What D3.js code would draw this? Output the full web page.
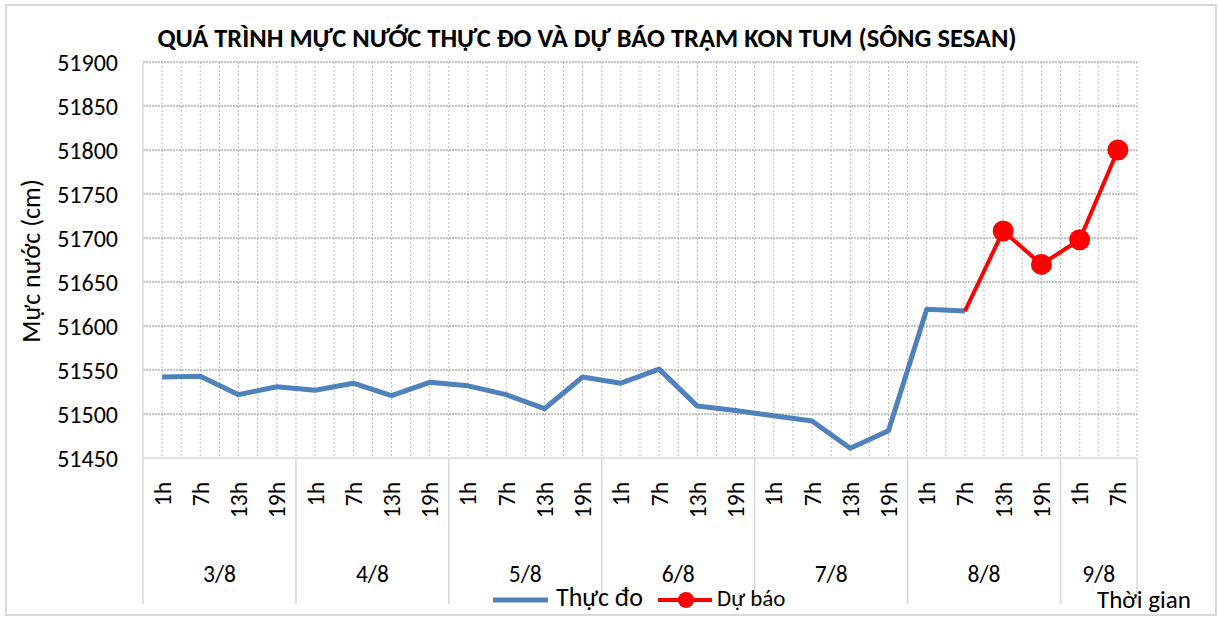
<!DOCTYPE html>
<html>
<head>
<meta charset="utf-8">
<script src="https://cdn.jsdelivr.net/npm/d3@7"></script>
<style>
  body { margin: 0; background: #fff; }
  text { font-family: Carlito, Calibri, "Liberation Sans", sans-serif; fill: #000; }
</style>
</head>
<body>
<script>
// Data
const hourLabels = ["1h","7h","13h","19h","1h","7h","13h","19h","1h","7h","13h","19h",
                    "1h","7h","13h","19h","1h","7h","13h","19h","1h","7h","13h","19h","1h","7h"];
const dayLabels = ["3/8","4/8","5/8","6/8","7/8","8/8","9/8"];
const daySpans = [4,4,4,4,4,4,2];
const observed = [51542,51543,51522,51531,51527,51535,51521,51536,51532,51522,51506,51542,
                  51535,51551,51509,51504,51498,51492,51461,51481,51619,51617,
                  null,null,null,null];
const forecast = [null,null,null,null,null,null,null,null,null,null,null,null,
                  null,null,null,null,null,null,null,null,null,51617,
                  51708,51670,51698,51800];
const yTicks = [51450,51500,51550,51600,51650,51700,51750,51800,51850,51900];

// Layout
const width = 1219, height = 619;
const plot = {left: 143, right: 1137, top: 62, bottom: 458};

const svg = d3.select("body").append("svg")
    .attr("width", width)
    .attr("height", height);

svg.append("rect")
    .attr("x", 6).attr("y", 5)
    .attr("width", 1210).attr("height", 610)
    .attr("fill", "#fff")
    .attr("stroke", "#d9d9d9")
    .attr("stroke-width", 2);

const x = d3.scaleBand()
    .domain(d3.range(hourLabels.length))
    .range([plot.left, plot.right])
    .padding(0);
const bw = x.bandwidth();
const cx = i => x(i) + bw / 2;

const y = d3.scaleLinear()
    .domain([51450, 51900])
    .range([plot.bottom, plot.top]);

// vertical gridlines (category centres and boundaries)
const vLines = [];
hourLabels.forEach((d, i) => { vLines.push(cx(i)); vLines.push(x(i) + bw); });
svg.append("g").selectAll("line")
    .data(vLines)
    .join("line")
    .attr("x1", d => d).attr("x2", d => d)
    .attr("y1", plot.top).attr("y2", plot.bottom)
    .attr("stroke", "#bfbfbf")
    .attr("stroke-width", 1)
    .attr("stroke-dasharray", "2,2");

// horizontal gridlines
svg.append("g").selectAll("line")
    .data(yTicks.filter(d => d > 51450))
    .join("line")
    .attr("x1", plot.left).attr("x2", plot.right)
    .attr("y1", d => y(d)).attr("y2", d => y(d))
    .attr("stroke", "#8c8c8c")
    .attr("stroke-width", 1)
    .attr("stroke-dasharray", "2,1");

// axes lines
svg.append("line")
    .attr("x1", plot.left).attr("x2", plot.left)
    .attr("y1", plot.top).attr("y2", plot.bottom)
    .attr("stroke", "#d9d9d9").attr("stroke-width", 1.5);
svg.append("line")
    .attr("x1", plot.left).attr("x2", plot.right)
    .attr("y1", plot.bottom).attr("y2", plot.bottom)
    .attr("stroke", "#d9d9d9").attr("stroke-width", 1.5);

// y tick labels
svg.append("g").selectAll("text")
    .data(yTicks)
    .join("text")
    .attr("x", 118)
    .attr("y", d => y(d))
    .attr("dy", "0.36em")
    .attr("text-anchor", "end")
    .style("font-size", "24px")
    .text(d => d);

// y axis title
svg.append("text")
    .attr("transform", "translate(40,261) rotate(-90)")
    .attr("text-anchor", "middle")
    .style("font-size", "26px")
    .text("Mực nước (cm)");

// title
svg.append("text")
    .attr("x", 587).attr("y", 47)
    .attr("text-anchor", "middle")
    .style("font-size", "26.5px")
    .style("font-weight", "bold")
    .text("QUÁ TRÌNH MỰC NƯỚC THỰC ĐO VÀ DỰ BÁO TRẠM KON TUM (SÔNG SESAN)");

// hour labels
svg.append("g").selectAll("text")
    .data(hourLabels)
    .join("text")
    .attr("transform", (d, i) => `translate(${cx(i)},482) rotate(-90)`)
    .attr("dy", "0.36em")
    .attr("text-anchor", "end")
    .style("font-size", "23.5px")
    .text(d => d);

// day groups
let start = 0;
const groups = daySpans.map((n, k) => {
    const g = {label: dayLabels[k], a: start, b: start + n - 1};
    start += n;
    return g;
});
const bounds = [plot.left].concat(groups.map(g => x(g.b) + bw));
svg.append("g").selectAll("line")
    .data(bounds)
    .join("line")
    .attr("x1", d => d).attr("x2", d => d)
    .attr("y1", plot.bottom).attr("y2", 604)
    .attr("stroke", "#d9d9d9").attr("stroke-width", 1.5);

svg.append("g").selectAll("text")
    .data(groups)
    .join("text")
    .attr("x", g => (x(g.a) + x(g.b) + bw) / 2)
    .attr("y", 582)
    .attr("text-anchor", "middle")
    .style("font-size", "23.5px")
    .text(g => g.label);

// lines
const line = d3.line()
    .defined(d => d != null)
    .x((d, i) => cx(i))
    .y(d => y(d));

svg.append("path")
    .datum(observed)
    .attr("d", line)
    .attr("fill", "none")
    .attr("stroke", "#4f81bd")
    .attr("stroke-width", 5)
    .attr("stroke-linejoin", "round");

svg.append("path")
    .datum(forecast)
    .attr("d", line)
    .attr("fill", "none")
    .attr("stroke", "#ff0000")
    .attr("stroke-width", 4)
    .attr("stroke-linejoin", "round");

// forecast markers (first point is the junction, drawn without marker)
const firstF = forecast.findIndex(d => d != null);
svg.append("g").selectAll("circle")
    .data(forecast.map((d, i) => ({v: d, i})).filter(d => d.v != null && d.i > firstF))
    .join("circle")
    .attr("cx", d => cx(d.i))
    .attr("cy", d => y(d.v))
    .attr("r", 10.5)
    .attr("fill", "#ff0000");

// legend
const lg = svg.append("g").attr("transform", "translate(0,600)");
lg.append("line").attr("x1", 493).attr("x2", 548).attr("y1", 0).attr("y2", 0)
    .attr("stroke", "#4f81bd").attr("stroke-width", 5);
lg.append("text").attr("x", 556).attr("y", 6)
    .style("font-size", "26px").text("Thực đo");
lg.append("line").attr("x1", 658).attr("x2", 712).attr("y1", 0).attr("y2", 0)
    .attr("stroke", "#ff0000").attr("stroke-width", 4);
lg.append("circle").attr("cx", 686).attr("cy", 0).attr("r", 8).attr("fill", "#ff0000");
lg.append("text").attr("x", 717).attr("y", 6)
    .style("font-size", "23px").text("Dự báo");

svg.append("text")
    .attr("x", 1097).attr("y", 608)
    .style("font-size", "25px")
    .text("Thời gian");
</script>
</body>
</html>
